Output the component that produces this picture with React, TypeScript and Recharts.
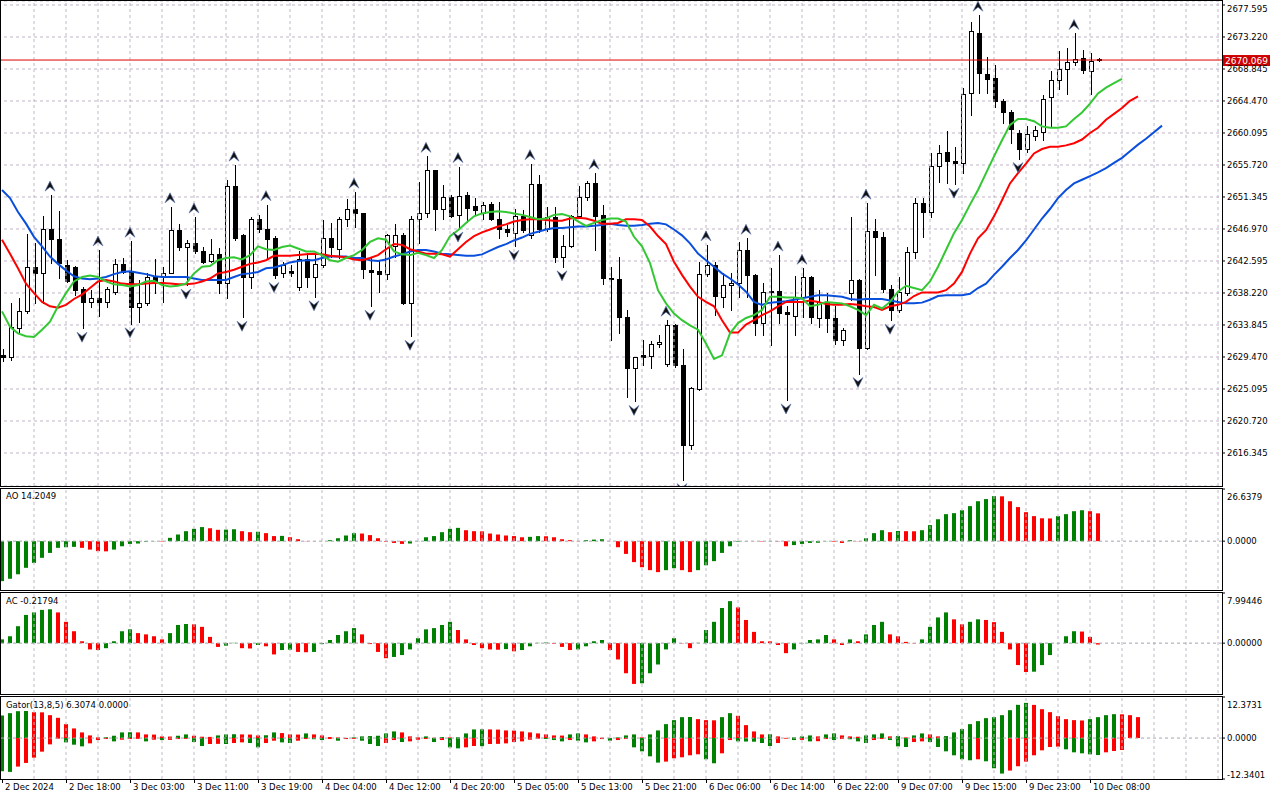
import React from "react";
import {
  ComposedChart,
  Bar,
  Line,
  Scatter,
  XAxis,
  YAxis,
  CartesianGrid,
  ReferenceLine,
  Cell,
} from "recharts";

// H1 bars, one label every 8 bars
const DATE_LABELS = [
  "2 Dec 2024", "2 Dec 18:00", "3 Dec 03:00", "3 Dec 11:00", "3 Dec 19:00", "4 Dec 04:00",
  "4 Dec 12:00", "4 Dec 20:00", "5 Dec 05:00", "5 Dec 13:00", "5 Dec 21:00", "6 Dec 06:00",
  "6 Dec 14:00", "6 Dec 22:00", "9 Dec 07:00", "9 Dec 15:00", "9 Dec 23:00", "10 Dec 08:00",
];

const PRICE_TICKS = [
  2616.345, 2620.72, 2625.095, 2629.47, 2633.845, 2638.22, 2642.595, 2646.97,
  2651.345, 2655.72, 2660.095, 2664.47, 2668.845, 2673.22, 2677.595,
];
const LAST_PRICE = 2670.069;

const OPEN = [
  2629.8, 2629.5, 2633.4, 2635.7, 2641.8, 2640.9, 2646.9, 2645.6, 2642.1, 2641.8,
  2638.8, 2637.0, 2637.5, 2637.0, 2638.4, 2642.2, 2641.1, 2636.3, 2636.9, 2640.5,
  2640.5, 2641.0, 2646.8, 2644.5, 2645.0, 2643.9, 2642.6, 2643.6, 2639.6, 2652.8,
  2646.1, 2640.4, 2648.3, 2646.9, 2645.7, 2640.9, 2641.2, 2639.0, 2642.9, 2640.4,
  2642.0, 2645.7, 2644.3, 2648.3, 2649.7, 2649.1, 2641.4, 2641.2, 2640.8, 2644.6,
  2646.1, 2636.9, 2648.4, 2649.1, 2655.0, 2649.7, 2651.3, 2648.9, 2651.6, 2650.1,
  2649.1, 2650.4, 2648.3, 2646.9, 2646.4, 2648.7, 2646.1, 2653.1, 2646.9, 2648.6,
  2643.1, 2644.7, 2648.7, 2651.3, 2653.2, 2648.9, 2640.3, 2640.1, 2635.0, 2627.9,
  2629.7, 2629.6, 2631.2, 2628.5, 2633.8, 2628.4, 2617.5, 2625.1, 2640.8, 2642.1,
  2637.7, 2639.3, 2639.6, 2644.1, 2640.7, 2634.1, 2638.5, 2638.5, 2635.6, 2635.1,
  2637.7, 2640.4, 2634.8, 2637.0, 2634.8, 2631.8, 2638.2, 2640.0, 2630.7, 2646.7,
  2645.9, 2638.7, 2635.9, 2638.2, 2643.8, 2650.5, 2649.3, 2655.6, 2657.5, 2656.2,
  2656.0, 2665.6, 2673.7, 2668.2, 2667.6, 2664.4, 2662.9, 2660.1, 2657.9, 2659.7,
  2660.2, 2665.0, 2667.3, 2668.9, 2669.8, 2670.3, 2668.6, 2670.2,
];
const HIGH = [
  2630.6, 2636.9, 2637.5, 2646.3, 2645.1, 2648.7, 2651.6, 2649.4, 2642.7, 2641.9,
  2639.0, 2638.6, 2644.1, 2639.0, 2642.9, 2643.0, 2645.3, 2640.0, 2641.0, 2642.9,
  2641.8, 2650.0, 2647.6, 2645.5, 2648.6, 2644.5, 2645.6, 2644.4, 2653.7, 2655.7,
  2646.3, 2648.6, 2648.9, 2650.3, 2646.0, 2642.5, 2642.0, 2643.9, 2643.7, 2643.4,
  2648.2, 2647.8, 2648.6, 2651.1, 2652.0, 2649.2, 2643.2, 2642.6, 2646.3, 2647.7,
  2646.4, 2648.7, 2653.4, 2656.9, 2655.1, 2653.0, 2651.6, 2655.5, 2652.0, 2651.2,
  2650.7, 2650.7, 2650.7, 2647.5, 2649.7, 2649.6, 2655.9, 2654.4, 2650.0, 2650.0,
  2646.1, 2648.9, 2652.8, 2653.5, 2654.6, 2650.3, 2641.8, 2643.2, 2635.9, 2629.5,
  2631.8, 2631.7, 2632.5, 2634.5, 2634.0, 2630.5, 2625.4, 2642.5, 2644.8, 2642.5,
  2640.9, 2640.9, 2645.2, 2645.7, 2640.8, 2639.6, 2641.6, 2643.4, 2636.5, 2640.5,
  2641.6, 2640.6, 2638.6, 2638.2, 2636.4, 2633.4, 2648.6, 2640.1, 2650.5, 2648.4,
  2646.6, 2639.3, 2640.4, 2644.5, 2651.2, 2651.2, 2657.3, 2658.5, 2660.3, 2658.2,
  2666.2, 2675.3, 2676.2, 2670.5, 2669.4, 2664.8, 2663.2, 2660.5, 2661.0, 2661.0,
  2665.3, 2668.6, 2671.3, 2671.7, 2673.7, 2671.5, 2671.0, 2670.3,
];
const LOW = [
  2628.9, 2629.1, 2632.8, 2635.5, 2636.8, 2636.8, 2642.3, 2640.3, 2639.7, 2637.9,
  2633.4, 2636.3, 2635.1, 2636.3, 2638.1, 2641.0, 2634.0, 2634.3, 2636.6, 2638.2,
  2637.0, 2640.9, 2644.1, 2639.3, 2643.7, 2642.3, 2642.5, 2638.2, 2637.5, 2645.5,
  2634.9, 2638.9, 2646.6, 2643.0, 2640.2, 2640.4, 2640.5, 2638.6, 2639.1, 2637.7,
  2641.8, 2643.2, 2643.0, 2647.4, 2647.3, 2640.2, 2636.4, 2638.4, 2640.1, 2643.2,
  2636.7, 2632.3, 2645.0, 2648.6, 2646.8, 2648.4, 2648.6, 2647.1, 2647.9, 2649.0,
  2648.3, 2648.2, 2645.8, 2646.0, 2644.6, 2646.5, 2645.8, 2646.5, 2646.7, 2642.5,
  2641.8, 2644.5, 2648.5, 2651.0, 2644.1, 2639.5, 2631.8, 2632.8, 2624.0, 2623.4,
  2628.4, 2627.9, 2630.9, 2628.3, 2628.1, 2612.7, 2616.9, 2625.0, 2640.6, 2635.2,
  2636.3, 2635.9, 2637.7, 2637.7, 2632.5, 2632.5, 2631.1, 2634.1, 2623.6, 2632.5,
  2635.0, 2634.1, 2633.6, 2632.9, 2631.3, 2631.1, 2637.3, 2627.2, 2630.5, 2640.7,
  2638.4, 2634.5, 2635.6, 2638.0, 2643.0, 2645.9, 2648.6, 2653.4, 2653.3, 2653.1,
  2654.6, 2662.6, 2665.5, 2665.5, 2663.7, 2661.4, 2658.7, 2656.6, 2657.5, 2659.1,
  2659.1, 2661.1, 2666.1, 2665.4, 2669.4, 2668.3, 2665.4, 2669.9,
];
const CLOSE = [
  2629.5, 2633.6, 2635.7, 2641.8, 2640.9, 2646.9, 2645.6, 2642.3, 2639.9, 2638.6,
  2637.0, 2637.5, 2637.0, 2638.8, 2642.2, 2641.1, 2636.3, 2636.9, 2640.4, 2639.8,
  2641.0, 2646.8, 2644.5, 2645.0, 2643.9, 2642.5, 2643.6, 2639.6, 2652.8, 2645.7,
  2640.4, 2648.3, 2646.9, 2645.6, 2640.7, 2642.0, 2641.0, 2642.9, 2640.4, 2642.2,
  2645.8, 2644.5, 2648.3, 2649.7, 2649.1, 2641.5, 2641.1, 2640.8, 2646.1, 2646.1,
  2636.9, 2648.4, 2649.1, 2655.0, 2649.7, 2651.3, 2648.8, 2651.5, 2649.9, 2649.6,
  2650.2, 2648.3, 2646.9, 2646.6, 2648.7, 2646.8, 2653.1, 2646.9, 2648.6, 2643.1,
  2644.7, 2648.7, 2651.3, 2653.2, 2648.8, 2640.2, 2640.1, 2635.0, 2627.9, 2629.4,
  2629.5, 2631.2, 2631.5, 2633.8, 2628.4, 2617.5, 2625.2, 2640.8, 2642.1, 2637.8,
  2639.3, 2639.6, 2644.1, 2640.7, 2634.1, 2638.3, 2638.3, 2635.5, 2635.4, 2637.7,
  2640.4, 2634.9, 2637.0, 2634.8, 2631.8, 2633.2, 2640.0, 2630.7, 2646.7, 2645.9,
  2638.7, 2635.9, 2638.3, 2643.8, 2650.5, 2649.3, 2655.6, 2657.3, 2656.2, 2656.0,
  2665.4, 2674.0, 2668.3, 2667.5, 2664.4, 2662.9, 2660.6, 2657.9, 2660.0, 2660.5,
  2664.8, 2667.3, 2668.9, 2669.8, 2670.2, 2668.7, 2670.0, 2670.069,
];

// Alligator lines, as drawn (already shifted forward)
const JAW = [
  2652.3, 2651.2, 2649.3, 2647.7, 2645.9, 2644.6, 2643.2, 2642.2, 2641.3, 2640.5,
  2640.2, 2640.1, 2640.2, 2640.4, 2640.8, 2641.1, 2641.2, 2641.0, 2640.8, 2640.5,
  2640.4, 2640.4, 2640.4, 2640.4, 2640.2, 2640.0, 2640.0, 2640.0, 2640.0, 2640.4,
  2640.8, 2640.9, 2641.1, 2641.6, 2641.7, 2642.0, 2642.4, 2642.6, 2642.7, 2642.7,
  2643.0, 2643.2, 2643.2, 2643.2, 2643.0, 2643.0, 2642.7, 2642.6, 2642.8, 2643.2,
  2643.5, 2643.9, 2644.1, 2644.1, 2643.9, 2643.6, 2643.5, 2643.4, 2643.3, 2643.3,
  2643.5, 2644.0, 2644.5, 2644.9, 2645.4, 2645.8, 2646.3, 2646.6, 2646.9, 2647.1,
  2647.1, 2647.2, 2647.3, 2647.3, 2647.4, 2647.5, 2647.7, 2647.5, 2647.4, 2647.4,
  2647.5, 2647.7, 2647.8, 2647.6, 2646.9, 2646.1, 2645.0, 2643.6, 2642.7, 2641.8,
  2640.9, 2640.2, 2639.4, 2638.4, 2637.0, 2636.6, 2636.9, 2637.0, 2637.1, 2637.3,
  2637.5, 2637.7, 2637.9, 2637.9, 2637.8, 2637.7, 2637.4, 2637.3, 2637.4, 2637.4,
  2637.4, 2637.2, 2637.0, 2636.8, 2636.8, 2636.9, 2637.3, 2637.8, 2637.9, 2637.9,
  2637.9, 2638.1, 2638.9, 2639.5, 2640.7, 2641.8, 2643.0, 2644.1, 2645.4, 2646.9,
  2648.4, 2649.7, 2651.2, 2652.3, 2653.2, 2653.7, 2654.2, 2654.7, 2655.3, 2656.0,
  2656.7, 2657.6, 2658.5, 2659.3, 2660.2, 2661.1,
];
const TEETH = [
  2645.5, 2643.6, 2641.6, 2639.5, 2638.2, 2637.0, 2636.4, 2636.2, 2636.6, 2637.4,
  2638.0, 2638.9, 2639.8, 2640.0, 2639.8, 2639.5, 2639.4, 2639.4, 2639.5, 2639.6,
  2639.6, 2639.5, 2639.4, 2639.4, 2639.5, 2639.8, 2640.2, 2640.9, 2641.1, 2641.4,
  2641.8, 2642.2, 2642.4, 2642.7, 2643.3, 2643.3, 2643.3, 2643.4, 2643.5, 2643.6,
  2643.5, 2643.3, 2643.2, 2643.1, 2642.8, 2642.7, 2643.0, 2643.4, 2644.2, 2644.9,
  2644.8, 2644.2, 2643.9, 2643.6, 2643.6, 2643.5, 2643.2, 2644.2, 2645.2, 2646.0,
  2646.5, 2646.9, 2647.3, 2647.6, 2648.0, 2648.2, 2648.3, 2648.3, 2648.2, 2648.1,
  2648.1, 2648.4, 2648.5, 2648.4, 2648.1, 2647.7, 2647.7, 2647.8, 2648.3, 2648.3,
  2648.2, 2647.3, 2646.0, 2644.9, 2642.5, 2640.7, 2639.1, 2637.7, 2637.0, 2636.4,
  2634.5, 2632.8, 2632.8, 2633.9, 2634.5, 2635.2, 2635.7, 2636.4, 2637.0, 2637.0,
  2637.0, 2637.2, 2637.0, 2636.7, 2636.6, 2636.6, 2636.7, 2636.6, 2636.4, 2636.3,
  2635.9, 2636.4, 2636.6, 2637.0, 2637.8, 2638.3, 2638.3, 2638.3, 2638.6, 2639.5,
  2641.1, 2643.6, 2645.7, 2646.8, 2648.7, 2650.9, 2653.2, 2654.6, 2655.9, 2657.3,
  2657.9, 2658.2, 2658.2, 2658.4, 2658.7, 2659.2, 2660.1, 2660.8, 2661.9, 2662.7,
  2663.5, 2664.5, 2665.1,
];
const LIPS = [
  2635.7, 2633.6, 2632.7, 2632.3, 2632.2, 2633.2, 2634.3, 2636.4, 2638.2, 2639.8,
  2640.4, 2640.6, 2640.4, 2639.8, 2639.4, 2639.3, 2639.1, 2639.3, 2639.8, 2639.9,
  2639.3, 2639.1, 2639.2, 2639.5, 2640.9, 2641.8, 2641.9, 2642.7, 2643.0, 2643.1,
  2642.8, 2643.4, 2644.6, 2644.2, 2644.1, 2644.5, 2644.7, 2644.3, 2643.9, 2643.9,
  2643.4, 2642.7, 2642.5, 2643.0, 2643.4, 2644.1, 2645.2, 2645.7, 2645.5, 2643.9,
  2643.5, 2643.4, 2643.7, 2643.4, 2643.0, 2644.1, 2646.0, 2646.8, 2647.8, 2648.7,
  2649.1, 2649.3, 2649.4, 2649.3, 2649.1, 2648.9, 2648.6, 2648.3, 2648.4, 2648.9,
  2649.0, 2648.7, 2648.0, 2647.4, 2647.8, 2648.2, 2648.4, 2648.4, 2648.0, 2645.9,
  2644.6, 2642.3, 2638.6, 2636.8, 2635.4, 2634.5, 2633.8, 2633.2, 2631.3, 2629.2,
  2629.7, 2632.7, 2634.1, 2634.8, 2635.2, 2635.9, 2637.7, 2637.7, 2637.6, 2637.6,
  2637.5, 2636.4, 2636.6, 2637.0, 2636.9, 2636.8, 2636.4, 2635.9, 2635.2, 2636.6,
  2636.1, 2637.0, 2638.4, 2639.2, 2638.9, 2638.6, 2639.8, 2641.8, 2644.1, 2646.4,
  2648.2, 2650.3, 2652.3, 2654.6, 2656.9, 2659.1, 2661.2, 2662.0, 2662.0, 2661.7,
  2661.0, 2660.8, 2660.8, 2661.0, 2662.0, 2662.9, 2664.1, 2665.5, 2666.3, 2666.9,
  2667.5,
];

const FRACTAL_UP = [6, 12, 16, 21, 24, 29, 33, 44, 53, 57, 66, 74, 83, 88, 93, 97, 100, 108, 122, 134];
const FRACTAL_DN = [10, 16, 23, 30, 34, 39, 46, 51, 57, 64, 70, 79, 85, 98, 107, 111, 119, 127];

const AO = [
  -20.4, -19.2, -16.9, -13.6, -11.1, -8.5, -6.0, -3.4, -3.1, -2.9,
  -3.4, -4.3, -5.1, -5.2, -4.3, -2.6, -1.4, -1.2, -0.3, -0.1,
  -0.2, 1.7, 3.4, 5.1, 6.3, 7.2, 6.6, 5.8, 5.9, 6.1,
  5.1, 4.6, 4.8, 4.1, 2.6, 2.7, 2.0, 1.0, 0.1, 0.05,
  0.02, 0.5, 1.5, 2.9, 4.1, 3.9, 3.1, 1.5, -0.3, -0.9,
  -1.4, -1.2, 0.1, 2.0, 2.6, 4.6, 6.3, 6.8, 5.6, 5.1,
  5.0, 3.9, 3.4, 2.9, 2.6, 2.0, 2.2, 2.6, 2.5, 2.0,
  1.0, 0.5, 0.1, 0.5, 0.8, 1.0, -0.05, -3.1, -6.5, -10.7,
  -13.3, -14.8, -15.8, -14.8, -13.8, -14.8, -15.8, -14.8, -12.3, -10.2,
  -6.0, -2.6, -0.3, 0.1, -0.05, -0.2, -0.1, -0.15, -2.6, -2.0,
  -1.4, -0.9, -0.8, -0.1, -0.3, -0.9, 0.5, -0.1, 1.5, 4.1,
  5.6, 4.6, 5.2, 5.1, 5.05, 5.6, 8.2, 11.2, 13.8, 14.3,
  15.8, 17.9, 20.4, 21.5, 23.0, 22.9, 20.4, 17.4, 14.8, 12.8,
  11.7, 11.6, 12.8, 13.8, 15.3, 15.8, 15.3, 14.2049,
];
const AO_COL =
  "gggggggggg" + "rrrrgggggg" + "rgggggrrgg" + "rrgrrgrrrr" + "rggggrrrrr" +
  "rgggggggrr" + "rrrrrrggrr" + "rrrgggrrrr" + "rrrggrrggg" + "ggggrrgrrg" +
  "ggggrrgrgg" + "grgrrggggg" + "gggggrrrrr" + "rrggggrr";

const AC = [
  0.6, 1.1, 2.7, 4.5, 4.9, 5.3, 5.4, 4.9, 3.4, 1.9,
  0.3, -1.0, -1.1, -0.8, 0.3, 1.9, 2.2, 1.6, 1.4, 1.1,
  0.6, 1.6, 2.9, 3.05, 3.0, 2.6, 1.0, -0.6, -0.4, 0.05,
  -0.8, -0.85, -0.3, -0.5, -1.8, -1.1, -1.05, -1.4, -1.45, -1.4,
  -0.15, 0.5, 1.3, 1.9, 2.4, 1.4, -0.15, -1.4, -2.4, -2.2,
  -1.9, -1.0, 0.8, 2.2, 2.4, 2.9, 3.4, 2.1, 0.6, -0.3,
  -0.8, -1.0, -1.05, -0.95, -1.3, -1.1, -0.5, 0.05, 0.1, -0.1,
  -0.6, -1.1, -1.0, -0.5, 0.3, 0.5, -1.1, -2.6, -4.8, -6.5,
  -6.4, -4.8, -3.4, -1.0, 0.8, -0.05, -0.8, 0.05, 2.1, 3.4,
  5.6, 6.7, 5.7, 3.7, 1.8, 0.3, 0.28, -0.3, -1.6, -1.0,
  -0.05, 0.5, 0.6, 1.3, 0.6, -0.3, 0.6, 0.3, 1.4, 2.9,
  3.4, 1.4, 1.1, 0.2, -0.05, 0.6, 2.6, 4.1, 4.9, 3.8,
  3.0, 3.4, 3.8, 3.7, 3.35, 1.8, -1.0, -3.5, -4.6, -4.55,
  -3.5, -1.9, 0.02, 1.1, 1.9, 1.85, 1.0, -0.21794,
];
const AC_COL =
  "gggggggrrr" + "rrrggggrrr" + "rgggrrrrgg" + "rrgrrggrrg" + "gggggrrrrg" +
  "gggggggrrr" + "rrrgrggggr" + "rrggggrrrr" + "gggggrrggg" + "ggrrrrrrrg" +
  "ggggrrgrgg" + "grrrrggggr" + "rggrrrrrrg" + "gggggrrr";

const GATOR_UP = [
  6.8, 7.5, 8.1, 8.15, 7.8, 7.75, 6.9, 6.1, 4.2, 2.9,
  1.7, 0.8, 0.2, 0.25, 0.7, 1.7, 1.75, 1.7, 1.1, 1.05,
  0.5, 0.45, 0.7, 1.1, 0.7, 0.4, 0.35, 0.8, 1.1, 1.15,
  1.1, 1.05, 0.8, 0.85, 1.7, 1.5, 1.1, 1.05, 1.4, 1.1,
  0.8, 0.3, 0.2, 0.05, 0.2, 0.5, 0.6, 0.7, 1.4, 2.0,
  1.7, 0.5, 0.2, 0.5, 0.1, 0.3, 0.2, 0.25, 1.4, 2.6,
  2.65, 2.6, 2.55, 2.3, 2.25, 2.0, 1.7, 1.4, 1.1, 0.8,
  0.75, 1.1, 1.4, 1.1, 0.5, 0.1, 0.05, 0.2, 0.8, 1.1,
  0.2, 1.1, 2.3, 4.2, 5.4, 6.3, 6.35, 5.7, 5.4, 5.35,
  6.3, 7.5, 6.7, 3.9, 2.0, 1.1, 1.15, 0.5, 0.05, 0.2,
  0.5, 0.8, 0.5, 1.1, 1.4, 0.8, 0.5, 0.4, 0.8, 1.1,
  1.4, 0.5, 0.6, 0.2, 0.8, 1.4, 1.1, 0.5, 0.6, 1.7,
  2.7, 4.2, 5.1, 6.0, 6.3, 6.9, 8.4, 10.0, 10.6, 10.0,
  8.7, 7.8, 6.6, 5.7, 5.4, 5.3, 5.7, 6.3, 6.9, 7.2,
  7.15, 6.9, 6.3074,
];
const GATOR_UP_COL =
  "ggggrrrrrr" + "rrrggggrrr" + "rrggrrrggg" + "rrrggrrrgr" + "rrrrgggggg" +
  "rrrgrgrggg" + "grrrrrrrrr" + "rggrrrrggg" + "rggggggrrr" + "ggrrrrgrrg" +
  "ggrggrrrgg" + "grgrggrrgg" + "gggggggggr" + "rrrrrrgggg" + "rrr";

const GATOR_DN = [
  -10.0, -10.2, -8.6, -7.5, -5.9, -4.1, -1.9, -0.2, -1.3, -2.0,
  -2.5, -1.6, -0.6, -0.3, -1.0, -0.5, -0.3, -0.25, -1.0, -0.5,
  -0.6, -0.55, -0.3, -0.25, -1.2, -2.4, -1.8, -1.75, -1.8, -1.5,
  -1.3, -1.5, -2.8, -1.5, -0.8, -1.3, -1.5, -0.8, -0.3, -0.35,
  -0.6, -0.3, -0.8, -0.3, -0.25, -0.8, -1.8, -2.4, -1.5, -0.6,
  -1.2, -1.0, -0.5, -0.3, -1.2, -0.6, -2.8, -3.1, -2.8, -2.4,
  -2.45, -1.8, -1.75, -1.6, -1.2, -1.0, -0.5, -0.2, -0.3, -0.6,
  -1.0, -0.6, -0.8, -1.3, -1.0, -0.3, -0.8, -0.6, -0.3, -2.8,
  -4.0, -5.5, -7.4, -7.1, -6.1, -5.8, -5.2, -4.9, -6.4, -7.6,
  -4.6, -0.6, -1.0, -1.05, -1.1, -1.5, -2.4, -1.5, -0.2, -0.6,
  -0.55, -1.0, -0.95, -0.3, -0.6, -0.3, -0.35, -1.0, -1.5, -0.6,
  -0.3, -0.6, -2.5, -2.7, -1.2, -1.0, -1.2, -2.7, -4.0, -5.2,
  -6.4, -6.7, -6.4, -7.0, -9.1, -10.7, -9.8, -8.5, -7.1, -5.2,
  -3.7, -2.7, -2.6, -3.4, -4.3, -4.6, -4.9, -5.1, -4.3, -3.9,
  -3.6,
];
const GATOR_DN_COL =
  "ggrrrrrrgg" + "grrrgrrrgr" + "grrrggrrgr" + "rggrrggrrg" + "grgrrgggrr" +
  "grrrgrggrr" + "grrrrrrrgg" + "grggrrgrrg" + "gggrrrrrgg" + "rrgggggrrg" +
  "rgrrgrgggr" + "rgggrrgggg" + "ggrgggrrrr" + "rrrgggggrr" + "r";

const SLOTS = 153;
const GRID_X = Array.from({ length: 39 }, (_, m) => m * 4);

const FONT = '"DejaVu Sans", Verdana, sans-serif';
const FS = 8.5;
const GRID = "#c2b6c8";
const GREEN = "#008000";
const RED = "#ff0000";

const rows = Array.from({ length: SLOTS }, (_, i) => ({
  i,
  o: OPEN[i],
  h: HIGH[i],
  l: LOW[i],
  c: CLOSE[i],
  jaw: JAW[i],
  teeth: TEETH[i],
  lips: LIPS[i],
  fu: FRACTAL_UP.includes(i) ? HIGH[i] : undefined,
  fd: FRACTAL_DN.includes(i) ? LOW[i] : undefined,
  ao: AO[i],
  ac: AC[i],
  gu: GATOR_UP[i],
  gd: GATOR_DN[i],
}));

const Candle = (props: any) => {
  const { x, y, width, height, payload } = props;
  if (!payload || payload.h == null) return <g />;
  const top = Math.min(y, y + height);
  const bottom = Math.max(y, y + height);
  const span = payload.h - payload.l || 1;
  const toY = (v: number) => top + ((payload.h - v) / span) * (bottom - top);
  const cx = Math.round(x + width / 2);
  const bt = Math.round(toY(Math.max(payload.o, payload.c)));
  const bb = Math.round(toY(Math.min(payload.o, payload.c)));
  const bull = payload.c >= payload.o;
  return (
    <g>
      <line x1={cx + 0.5} x2={cx + 0.5} y1={Math.round(top)} y2={Math.round(bottom) + 1} stroke="#000" />
      <rect x={cx - 1.5} y={bt + 0.5} width={4} height={Math.max(bb - bt, 0)} fill={bull ? "#fff" : "#000"} stroke="#000" />
    </g>
  );
};

// Bill Williams fractal marks: arrowhead with a notched base
const FractalUp = (props: any) => {
  const { cx, cy } = props;
  if (cx == null || cy == null || Number.isNaN(cy)) return <g />;
  const b = cy - 4;
  const t = cy - 14;
  return <path d={`M${cx},${t} L${cx + 5},${b} L${cx},${b - 4} L${cx - 5},${b} Z`} fill="#111" stroke="#5a74b0" strokeWidth={0.6} />;
};

const FractalDown = (props: any) => {
  const { cx, cy } = props;
  if (cx == null || cy == null || Number.isNaN(cy)) return <g />;
  const b = cy + 4;
  const t = cy + 14;
  return <path d={`M${cx},${t} L${cx + 5},${b} L${cx},${b + 4} L${cx - 5},${b} Z`} fill="#111" stroke="#5a74b0" strokeWidth={0.6} />;
};

const PriceTag = (props: any) => {
  const vb = props.viewBox || {};
  const x = (vb.x || 0) + (vb.width || 0);
  const y = vb.y || 0;
  return (
    <g>
      <rect x={x + 1} y={y - 5} width={47} height={11} fill="#cc0000" />
      <text x={x + 24.5} y={y + 0.5} dy="0.35em" textAnchor="middle" fontSize={9} fontFamily={FONT} fill="#fff">
        {LAST_PRICE.toFixed(3)}
      </text>
    </g>
  );
};

const makeSideTick = (digits: number, top: number, bottom: number) => (props: any) => {
  const { x, y, payload } = props;
  const ty = Math.min(Math.max(y, top + 4), bottom - 4);
  return (
    <text x={x} y={ty} dy="0.35em" fontSize={FS} fontFamily={FONT} fill="#000">
      {Number(payload.value).toFixed(digits)}
    </text>
  );
};

const DateTick = (props: any) => {
  const { x, y, payload } = props;
  const k = payload.value;
  if (k % 8 !== 0 || !DATE_LABELS[k / 8]) return <g />;
  return (
    <g>
      <line x1={Math.round(x) + 0.5} x2={Math.round(x) + 0.5} y1={y} y2={y + 4} stroke="#000" />
      <text x={x + 3} y={y + 11} fontSize={FS} fontFamily={FONT} fill="#000">
        {DATE_LABELS[k / 8]}
      </text>
    </g>
  );
};

const vGrid = () =>
  GRID_X.filter((k) => k > 0).map((k) => (
    <ReferenceLine key={`vg${k}`} x={k} stroke={GRID} strokeDasharray="3 3" />
  ));

const box = (top: number, height: number): React.CSSProperties => ({
  position: "absolute",
  left: 0,
  top,
  width: 1223,
  height,
  border: "1px solid #000",
  boxSizing: "border-box",
  pointerEvents: "none",
});

const title = (top: number): React.CSSProperties => ({
  position: "absolute",
  left: 6,
  top,
  fontFamily: FONT,
  fontSize: FS,
  lineHeight: "10px",
  color: "#000",
  whiteSpace: "nowrap",
});

const App = () => {
  const aoLast = AO[AO.length - 1];
  const acLast = AC[AC.length - 1];
  const guLast = GATOR_UP[GATOR_UP.length - 1];
  return (
    <div style={{ position: "absolute", left: 0, top: 0, width: 1280, height: 800, background: "#fff", overflow: "hidden" }}>
      {/* price panel */}
      <div style={{ position: "absolute", left: 0, top: 0 }}>
        <ComposedChart width={1280} height={487} data={rows} margin={{ top: 1, right: 0, bottom: 1, left: -2 }}>
          <CartesianGrid vertical={false} stroke={GRID} strokeDasharray="3 3" />
          <XAxis dataKey="i" type="category" hide />
          <YAxis
            orientation="right"
            width={58}
            domain={[2611.83, 2678.14]}
            ticks={PRICE_TICKS}
            allowDataOverflow
            axisLine={false}
            tickLine={{ stroke: "#000" }}
            tickSize={3}
            tickMargin={2}
            tick={makeSideTick(3, -100, 1000)}
          />
          {vGrid()}
          <Bar dataKey={(r: any) => (r.h == null ? null : [r.l, r.h])} barSize={5} shape={Candle} isAnimationActive={false} />
          <Line dataKey="jaw" stroke="#0a4fdc" strokeWidth={2} dot={false} isAnimationActive={false} />
          <Line dataKey="teeth" stroke="#ff0000" strokeWidth={2} dot={false} isAnimationActive={false} />
          <Line dataKey="lips" stroke="#33c833" strokeWidth={2} dot={false} isAnimationActive={false} />
          <ReferenceLine y={LAST_PRICE} stroke="#e00000" label={(p: any) => <PriceTag {...p} />} />
          <Scatter dataKey="fu" shape={FractalUp} isAnimationActive={false} />
          <Scatter dataKey="fd" shape={FractalDown} isAnimationActive={false} />
        </ComposedChart>
      </div>

      {/* AO */}
      <div style={{ position: "absolute", left: 0, top: 488 }}>
        <ComposedChart width={1280} height={103} data={rows} margin={{ top: 1, right: 0, bottom: 2, left: -2 }}>
          <XAxis dataKey="i" type="category" hide />
          <YAxis
            orientation="right"
            width={58}
            domain={[-24.4203, 26.6379]}
            ticks={[-24.4203, 0, 26.6379]}
            allowDataOverflow
            axisLine={false}
            tickLine={{ stroke: "#000" }}
            tickSize={3}
            tickMargin={2}
            tick={makeSideTick(4, 1, 101)}
          />
          {vGrid()}
          <ReferenceLine y={0} stroke="#a0a4b0" strokeDasharray="3 3" />
          <Bar dataKey="ao" barSize={4} isAnimationActive={false}>
            {rows.map((r) => (
              <Cell key={r.i} fill={AO_COL[r.i] === "g" ? GREEN : RED} />
            ))}
          </Bar>
        </ComposedChart>
      </div>

      {/* AC */}
      <div style={{ position: "absolute", left: 0, top: 592 }}>
        <ComposedChart width={1280} height={103} data={rows} margin={{ top: 1, right: 0, bottom: 2, left: -2 }}>
          <XAxis dataKey="i" type="category" hide />
          <YAxis
            orientation="right"
            width={58}
            domain={[-7.94745, 7.99446]}
            ticks={[-7.94745, 0, 7.99446]}
            allowDataOverflow
            axisLine={false}
            tickLine={{ stroke: "#000" }}
            tickSize={3}
            tickMargin={2}
            tick={makeSideTick(5, 1, 101)}
          />
          {vGrid()}
          <ReferenceLine y={0} stroke="#a0a4b0" strokeDasharray="3 3" />
          <Bar dataKey="ac" barSize={4} isAnimationActive={false}>
            {rows.map((r) => (
              <Cell key={r.i} fill={AC_COL[r.i] === "g" ? GREEN : RED} />
            ))}
          </Bar>
        </ComposedChart>
      </div>

      {/* Gator */}
      <div style={{ position: "absolute", left: 0, top: 696 }}>
        <ComposedChart width={1280} height={104} data={rows} stackOffset="sign" margin={{ top: 1, right: 0, bottom: 0, left: -2 }}>
          <XAxis
            dataKey="i"
            type="category"
            ticks={GRID_X}
            interval={0}
            height={21}
            axisLine={false}
            tickLine={false}
            tickSize={0}
            tickMargin={0}
            tick={DateTick}
          />
          <YAxis
            orientation="right"
            width={58}
            domain={[-12.3401, 12.3731]}
            ticks={[-12.3401, 0, 12.3731]}
            allowDataOverflow
            axisLine={false}
            tickLine={{ stroke: "#000" }}
            tickSize={3}
            tickMargin={2}
            tick={makeSideTick(4, 1, 83)}
          />
          {vGrid()}
          <ReferenceLine y={0} stroke="#a0a4b0" strokeDasharray="3 3" />
          <Bar dataKey="gu" stackId="gator" barSize={4} isAnimationActive={false}>
            {rows.map((r) => (
              <Cell key={r.i} fill={GATOR_UP_COL[r.i] === "g" ? GREEN : RED} />
            ))}
          </Bar>
          <Bar dataKey="gd" stackId="gator" barSize={4} isAnimationActive={false}>
            {rows.map((r) => (
              <Cell key={r.i} fill={GATOR_DN_COL[r.i] === "g" ? GREEN : RED} />
            ))}
          </Bar>
        </ComposedChart>
      </div>

      {/* panel frames */}
      <div style={box(0, 487)} />
      <div style={box(488, 103)} />
      <div style={box(592, 103)} />
      <div style={box(696, 84)} />

      <div style={title(491)}>{`AO ${aoLast.toFixed(4)}`}</div>
      <div style={title(596)}>{`AC ${acLast.toFixed(5)}`}</div>
      <div style={title(700)}>{`Gator(13,8,5) ${guLast.toFixed(4)} 0.0000`}</div>
    </div>
  );
};

export default App;
